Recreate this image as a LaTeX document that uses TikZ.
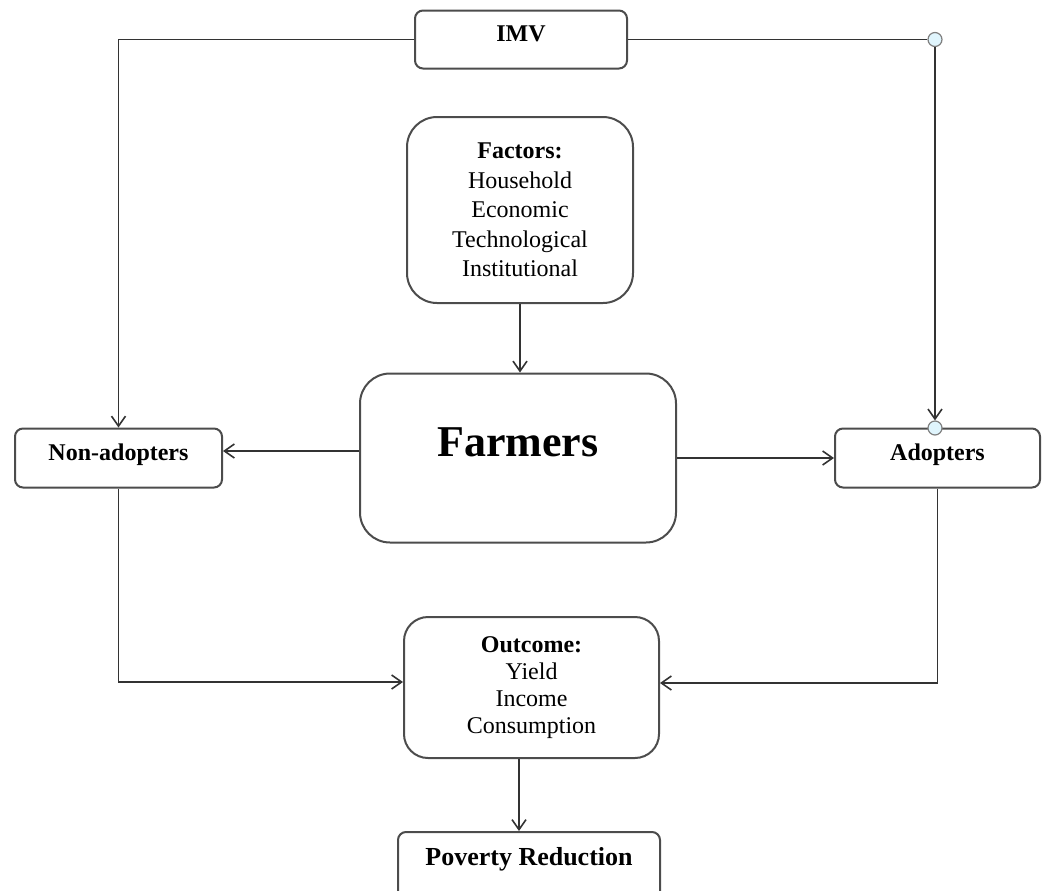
\documentclass[tikz,border=0pt]{standalone}
\usepackage{fontspec}
\setmainfont{Liberation Serif}
\usetikzlibrary{arrows.meta,positioning}

\begin{document}
\begin{tikzpicture}[x=0.5pt,y=-0.5pt,
		>={Straight Barb[length=5pt,width=7pt]},
		conn/.style={draw=black!80, line width=0.8pt},
		box/.style={draw=black!70, line width=1pt, rounded corners=4pt, font=\bfseries\fontsize{12}{14}\selectfont, text depth=6pt},
		bigbox/.style={draw=black!70, line width=1pt, rounded corners=15pt, align=center, font=\fontsize{12}{14.75}\selectfont},
		dot/.style={circle, draw=black!50, fill=cyan!12, line width=0.6pt, minimum size=7pt, inner sep=0pt}]
		\useasboundingbox (0,0) rectangle (1045,890);
		% boxes
		\node[box, minimum width=106pt, minimum height=29pt] (imv) at (521,39.5) {IMV};
		\node[bigbox, minimum width=113pt, minimum height=93pt] (factors) at (520,210) {\textbf{Factors:}\\Household\\Economic\\Technological\\Institutional};
		\node[bigbox, minimum width=158pt, minimum height=84.5pt, font=\bfseries\fontsize{22}{26}\selectfont, text depth=15.5pt] (farmers) at (518,458) {Farmers};
		\node[box, minimum width=103.5pt, minimum height=29.5pt] (nonadopt) at (118.5,458) {Non-adopters};
		\node[box, minimum width=102.5pt, minimum height=29.5pt] (adopt) at (937.5,458) {Adopters};
		\node[bigbox, rounded corners=12pt, minimum width=127.5pt, minimum height=70.5pt, font=\fontsize{12}{13.5}\selectfont] (outcome) at (531.5,687.5) {\textbf{Outcome:}\\Yield\\Income\\Consumption};
		\node[box, minimum width=131pt, minimum height=40pt, font=\bfseries\fontsize{13}{15}\selectfont, text depth=16pt] (poverty) at (529,872) {Poverty Reduction};
		% IMV links
		\node[dot] (jct) at (935,39.5) {};
		\node[dot] (port) at (935,428) {};
		\draw[conn, ->] (imv.west) -| (nonadopt.north);
		\draw[conn] (imv.east) -- (jct);
		\draw[conn, ->] (jct) -- (port);
		% flows
		\draw[conn, ->] (factors.south) -- (factors.south |- farmers.north);
		\draw[conn, ->] ([yshift=3.5pt]farmers.west) -- ([yshift=3.5pt]nonadopt.east);
		\draw[conn, ->] (farmers.east) -- (adopt.west);
		\draw[conn, ->] (nonadopt.south) |- ([yshift=2.75pt]outcome.west);
		\draw[conn, ->] (adopt.south) |- ([yshift=2.25pt]outcome.east);
		\draw[conn, ->] ([xshift=-6.25pt]outcome.south) -- ([xshift=-5pt]poverty.north);
\end{tikzpicture}
\end{document}
